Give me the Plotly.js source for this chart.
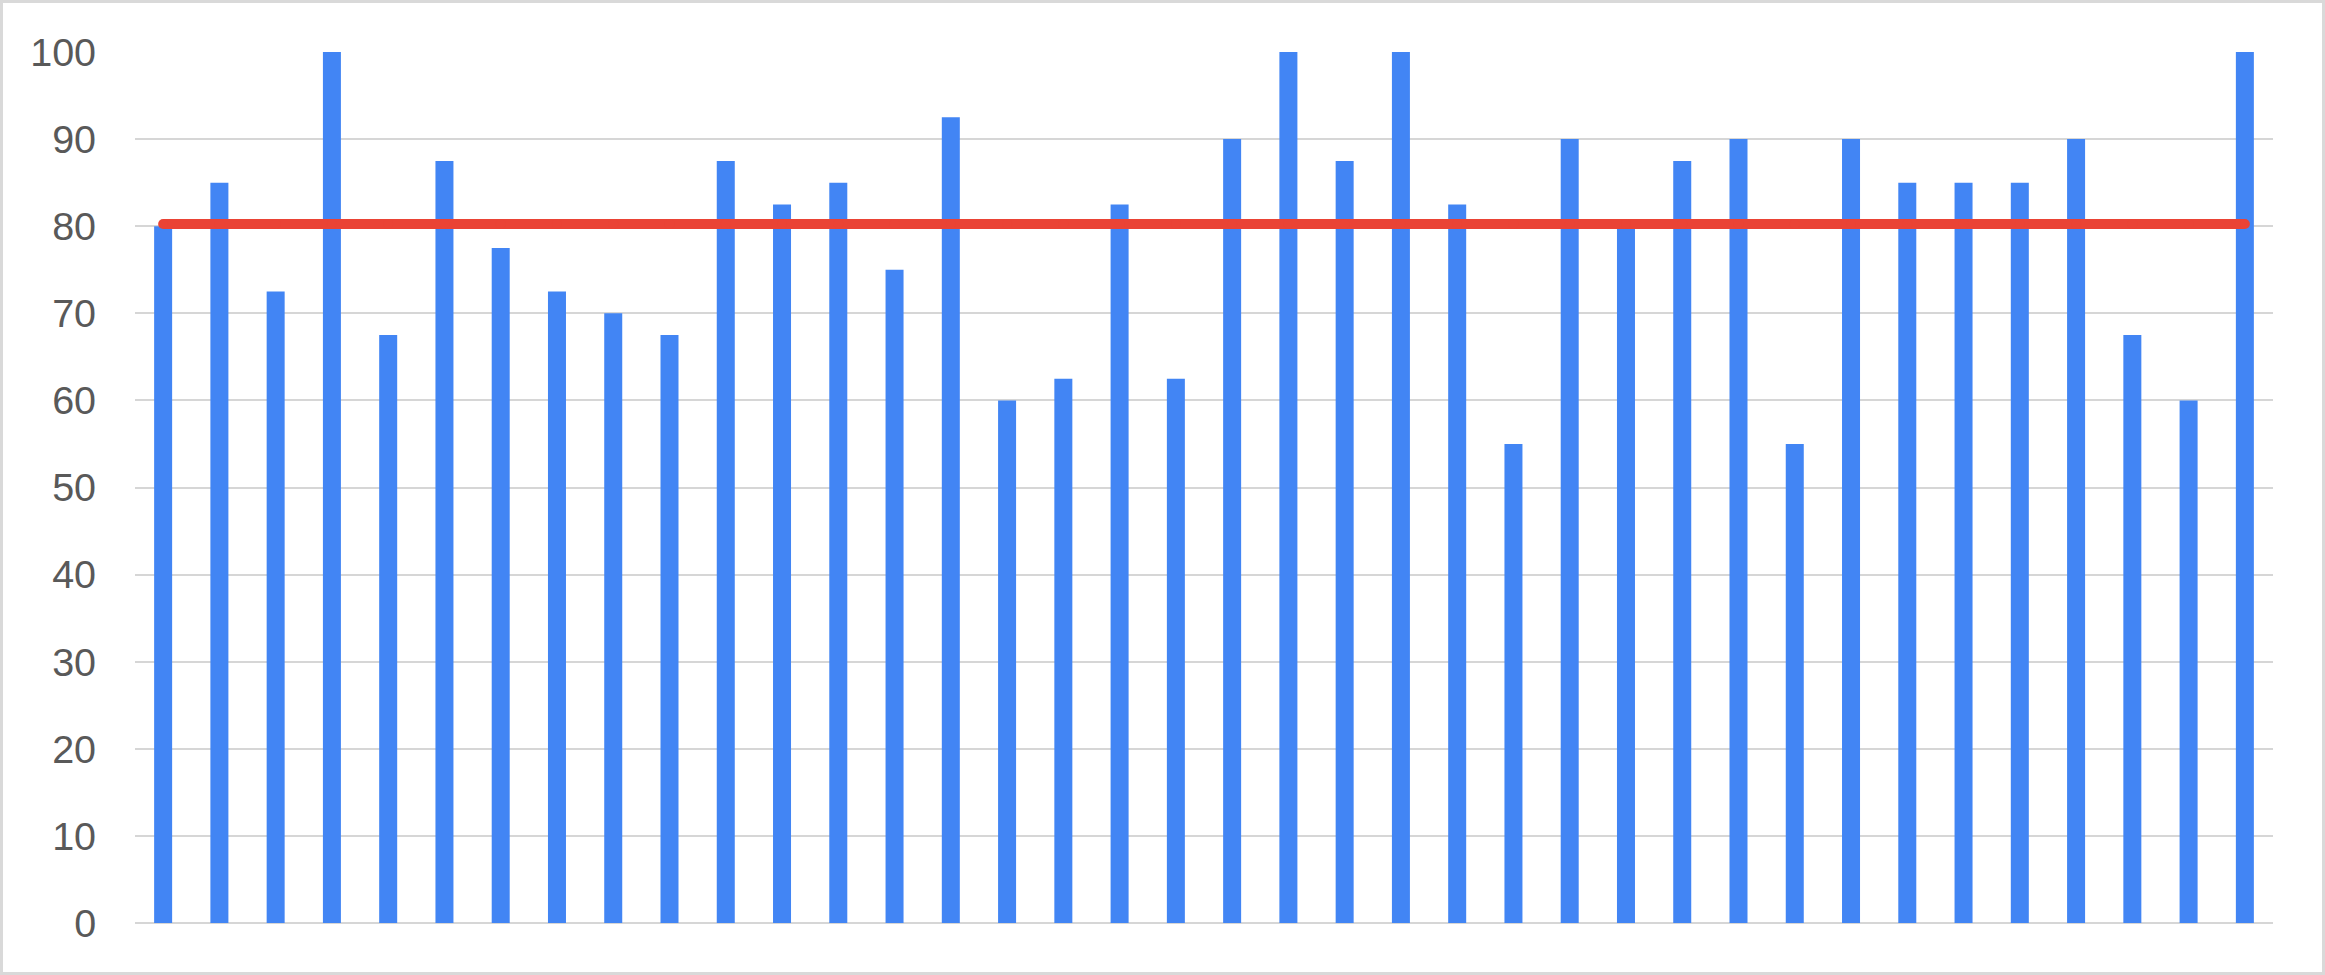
<!DOCTYPE html>
<html>
<head>
<meta charset="utf-8">
<script src="https://cdn.plot.ly/plotly-3.0.1.min.js"></script>
<style>
  html, body { margin: 0; padding: 0; background: #fff; }
  #chart {
    width: 2325px; height: 975px;
    box-sizing: border-box;
    border: 3px solid #d9d9d9;
  }
</style>
</head>
<body>
<div id="chart"></div>
<script>
// one bar per entry
var items = [];
for (var i = 1; i <= 38; i++) items.push(i);
var scores = [80, 85, 72.5, 100, 67.5, 87.5, 77.5, 72.5, 70, 67.5,
              87.5, 82.5, 85, 75, 92.5, 60, 62.5, 82.5, 62.5, 90,
              100, 87.5, 100, 82.5, 55, 90, 80, 87.5, 90, 55,
              90, 85, 85, 85, 90, 67.5, 60, 100];
var averageScore = 80.26;
var yTicks = [0, 10, 20, 30, 40, 50, 60, 70, 80, 90, 100];

/*
 * Bars plus a flat average line
 */
function drawChart() {
    var bars = {
        x: items,
        y: scores,
        type: 'bar',
        marker: { color: '#4285f4' },
        hoverinfo: 'none'
    };
    var avgLine = {
        x: items,
        y: items.map(function () { return averageScore; }),
        type: 'scatter',
        mode: 'lines+markers',
        line: { color: '#ea4335', width: 10 },
        marker: { color: '#ea4335', size: 10 },
        hoverinfo: 'none'
    };
    var layout = {
        width: 2319,
        height: 969,
        margin: { l: 132, r: 49, t: 49, b: 49 },
        paper_bgcolor: '#ffffff',
        plot_bgcolor: '#ffffff',
        showlegend: false,
        bargap: 0.68,
        font: { family: 'Liberation Sans, Arial, sans-serif', color: '#595959' },
        xaxis: {
            range: [0.5, 38.5],
            showticklabels: false,
            showgrid: false,
            zeroline: false,
            showline: false,
            ticks: ''
        },
        yaxis: {
            range: [0, 100],
            tickvals: yTicks,
            ticktext: yTicks.map(String),
            tickfont: { size: 39.5, color: '#595959' },
            ticks: 'outside',
            ticklen: 30,
            tickcolor: 'rgba(0,0,0,0)',
            showgrid: true,
            gridcolor: '#d6d6d6',
            gridwidth: 2,
            zeroline: true,
            zerolinecolor: '#d6d6d6',
            zerolinewidth: 2,
            showline: false
        }
    };
    Plotly.newPlot('chart', [bars, avgLine], layout, { displayModeBar: false, staticPlot: true });
}

drawChart();
</script>
</body>
</html>
